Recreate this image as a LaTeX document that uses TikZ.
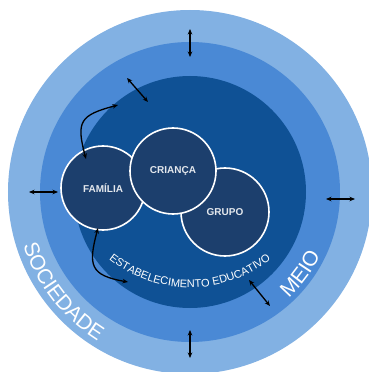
\documentclass[tikz,border=0pt]{standalone}
\usepackage{fontspec}
\setmainfont{Liberation Sans}
\usetikzlibrary{arrows.meta,decorations.text}

\definecolor{ringSociedade}{HTML}{82B1E3}
\definecolor{ringMeio}{HTML}{4A89D5}
\definecolor{ringEscola}{HTML}{0F5195}
\definecolor{nucleoFill}{HTML}{1C3F6D}

\tikzset{
  nucleo/.style={circle, draw=white, line width=1.6pt, fill=nucleoFill,
    minimum size=#1, inner sep=0pt, text=white!88!nucleoFill,
    font=\bfseries\fontsize{10}{12}\selectfont},
  troca/.style={{Stealth[length=5.5pt,width=4.5pt]}-{Stealth[length=5.5pt,width=4.5pt]},
    line width=1.3pt, black},
}

\begin{document}
\begin{tikzpicture}[x=1pt, y=1pt]
% centre of the rings at the origin
\def\rSociedade{182}
\def\rMeio{150}
\def\rEscola{116}
\useasboundingbox (-190,-180) rectangle (179,192);
\clip (-190,-180) rectangle (179,192);
% Rings
\fill[ringSociedade] (0,0) circle (\rSociedade);
\fill[ringMeio] (0,0) circle (\rMeio);
\fill[ringEscola] (0,0) circle (\rEscola);
% Ring labels
\path[decorate, decoration={text along path, text align=center,
  text={|\color{white}\fontsize{21}{24}\selectfont|SOCIEDADE}}]
  (188:175) arc (188:248:175);
\path[decorate, decoration={text along path, text align=center,
  text={|\color{white}\fontsize{21}{24}\selectfont|MEIO}}]
  (300:145) arc (300:347:145);
\path[decorate, decoration={text along path, text align=center,
  text={|\color{white}\fontsize{11}{13}\selectfont|ESTABELECIMENTO EDUCATIVO}}]
  (0,34.5) ++(220:130) arc (220:320:130);
% The three circles: Familia under Grupo under Crianca
\node[nucleo=84pt] (familia) at (-87,4) {FAMÍLIA};
\node[nucleo=88pt] (grupo) at (35,-20) {GRUPO};
\node[nucleo=86pt] (crianca) at (-17,21) {CRIANÇA};
% Arrow ends
\coordinate (n1) at (0,163);   \coordinate (n2) at (0,135);
\coordinate (s1) at (0,-138);  \coordinate (s2) at (0,-166);
\coordinate (w1) at (-161,0);  \coordinate (w2) at (-132,0);
\coordinate (e1) at (136,-7);  \coordinate (e2) at (165,-7);
\coordinate (nw1) at (-63,114); \coordinate (nw2) at (-42,90);
\coordinate (se1) at (59,-88);  \coordinate (se2) at (80,-114);
\coordinate (fam-n) at (-104,33); \coordinate (esc-n) at (-72,87);
\coordinate (fam-s) at (-92,-36); \coordinate (esc-s) at (-62,-90);
% Exchanges across the rings
\draw[troca] (n1) -- (n2);
\draw[troca] (s1) -- (s2);
\draw[troca] (w1) -- (w2);
\draw[troca] (e1) -- (e2);
\draw[troca] (nw1) -- (nw2);
\draw[troca] (se1) -- (se2);
\draw[troca] (fam-n) to[out=105, in=195, looseness=1.6] (esc-n);
\draw[troca] (fam-s) to[out=-105, in=170, looseness=1.6] (esc-s);
\end{tikzpicture}
\end{document}
